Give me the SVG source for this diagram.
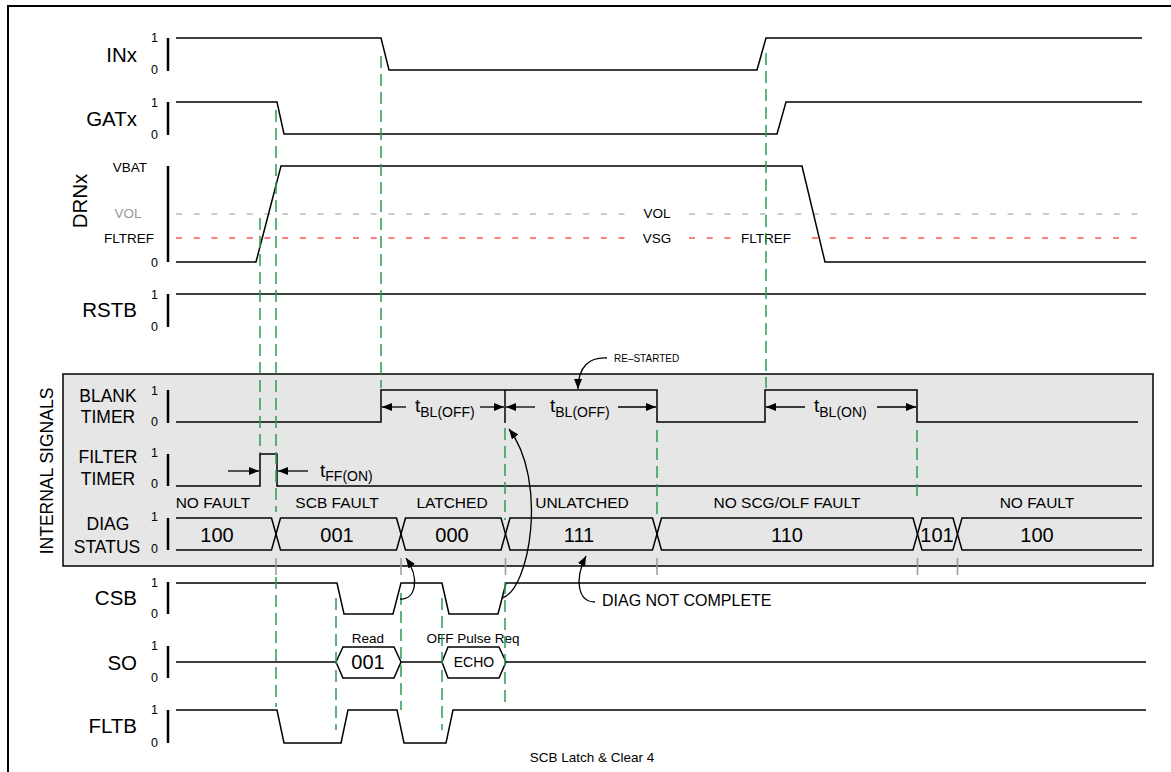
<svg xmlns="http://www.w3.org/2000/svg" width="1171" height="772" viewBox="0 0 1171 772">
<style>
text{font-family:"Liberation Sans",Arial,sans-serif;fill:#000}
.sig{fill:none;stroke:#000;stroke-width:1.5;stroke-linejoin:miter}
.bar{stroke:#000;stroke-width:2.5}
.lbl{font-size:20.5px;text-anchor:end}
.lv{font-size:12.5px;text-anchor:end}
.il{font-size:17.5px;text-anchor:middle}
.vl{font-size:13.5px;text-anchor:middle}
.st{font-size:15.5px;text-anchor:middle}
.bt{font-size:20px;text-anchor:middle}
.sm{font-size:13.5px;text-anchor:middle}
.gl{fill:none;stroke:#2a9a55;stroke-width:1.5;stroke-dasharray:12 6}
.gt{stroke:#999;stroke-width:1.5}
.dim{stroke:#000;stroke-width:1.3;marker-end:url(#ah)}
.crv{fill:none;stroke:#000;stroke-width:1.3;marker-end:url(#ah)}
.t{font-size:19px}
.sub{font-size:14px}
</style>
<defs>
<marker id="ah" markerUnits="userSpaceOnUse" markerWidth="10" markerHeight="8" refX="10" refY="4" orient="auto">
<path d="M0,0 L10,4 L0,8 Z" fill="#000"/>
</marker>
</defs>
<rect id="frame" x="8" y="6" width="1170" height="780" fill="#fff" stroke="#000" stroke-width="2"/>

<g id="internal-box">
<rect x="63" y="374" width="1090" height="192" fill="#e6e6e6" stroke="#000" stroke-width="1.5"/>
<text transform="translate(53,471) rotate(-90)" font-size="17.5" text-anchor="middle">INTERNAL SIGNALS</text>
</g>

<g id="INx">
<text class="lbl" x="137" y="62">INx</text>
<text class="lv" x="158" y="42">1</text>
<text class="lv" x="158" y="74">0</text>
<line class="bar" x1="168" y1="38" x2="168" y2="71"/>
<path class="sig" d="M176,38 H381 L389,70 H757 L766,38 H1142"/>
</g>

<g id="GATx">
<text class="lbl" x="137" y="126">GATx</text>
<text class="lv" x="158" y="107">1</text>
<text class="lv" x="158" y="139">0</text>
<line class="bar" x1="168" y1="102" x2="168" y2="135"/>
<path class="sig" d="M176,102 H277 L284,134 H777 L786,102 H1142"/>
</g>

<g id="DRNx">
<text transform="translate(87,201) rotate(-90)" font-size="20.5" text-anchor="middle">DRNx</text>
<text class="vl" x="130" y="172">VBAT</text>
<text class="vl" x="128" y="218" style="fill:#999">VOL</text>
<text class="vl" x="129" y="243">FLTREF</text>
<text class="lv" x="158" y="267">0</text>
<line class="bar" x1="168" y1="166" x2="168" y2="262"/>
<line x1="176" y1="214" x2="625" y2="214" stroke="#999" stroke-width="1.2" stroke-dasharray="6 11.7"/>
<line x1="689" y1="214" x2="1140" y2="214" stroke="#999" stroke-width="1.2" stroke-dasharray="6 11.7"/>
<line x1="176" y1="238" x2="625" y2="238" stroke="#f00" stroke-width="1.2" stroke-dasharray="6 11.7"/>
<line x1="689" y1="238" x2="732" y2="238" stroke="#f00" stroke-width="1.2" stroke-dasharray="6 11.7"/>
<line x1="812" y1="238" x2="1140" y2="238" stroke="#f00" stroke-width="1.2" stroke-dasharray="6 11.7"/>
<text class="vl" x="657" y="218">VOL</text>
<text class="vl" x="657" y="243">VSG</text>
<text class="vl" x="766" y="243">FLTREF</text>
<path class="sig" d="M176,262 H256 L281,166 H802 L825,262 H1146"/>
</g>

<g id="RSTB">
<text class="lbl" x="137" y="317">RSTB</text>
<text class="lv" x="158" y="299">1</text>
<text class="lv" x="158" y="331">0</text>
<line class="bar" x1="168" y1="294" x2="168" y2="327"/>
<path class="sig" d="M176,294 H1146"/>
</g>

<g id="BLANK-TIMER">
<text class="il" x="108" y="402">BLANK</text>
<text class="il" x="108" y="423">TIMER</text>
<text class="lv" x="158" y="395">1</text>
<text class="lv" x="158" y="426">0</text>
<line class="bar" x1="168" y1="390" x2="168" y2="423"/>
<path class="sig" d="M176,422 H381 V390 H657 V422 H765 V390 H917 V422 H1138"/>
<line class="sig" x1="505" y1="390" x2="505" y2="423"/>
<line class="dim" x1="406" y1="407" x2="382" y2="407"/>
<line class="dim" x1="480" y1="407" x2="504" y2="407"/>
<text x="415" y="412" class="t">t<tspan class="sub" dy="5">BL(OFF)</tspan></text>
<line class="dim" x1="535" y1="407" x2="506" y2="407"/>
<line class="dim" x1="618" y1="407" x2="656" y2="407"/>
<text x="550" y="412" class="t">t<tspan class="sub" dy="5">BL(OFF)</tspan></text>
<line class="dim" x1="805" y1="407" x2="766" y2="407"/>
<line class="dim" x1="877" y1="407" x2="916" y2="407"/>
<text x="814" y="412" class="t">t<tspan class="sub" dy="5">BL(ON)</tspan></text>
<text x="614" y="362" font-size="10">RE–STARTED</text>
</g>

<g id="FILTER-TIMER">
<text class="il" x="108" y="463">FILTER</text>
<text class="il" x="108" y="485">TIMER</text>
<text class="lv" x="158" y="457">1</text>
<text class="lv" x="158" y="488">0</text>
<line class="bar" x1="168" y1="454" x2="168" y2="486"/>
<path class="sig" d="M176,486 H260 V454 H277 V486 H1142"/>
<line class="dim" x1="228" y1="471" x2="259" y2="471"/>
<line class="dim" x1="308" y1="471" x2="278" y2="471"/>
<text x="320" y="477" class="t">t<tspan class="sub" dy="4">FF(ON)</tspan></text>
</g>

<g id="DIAG-STATUS">
<text class="il" x="108" y="530">DIAG</text>
<text class="il" x="107" y="553">STATUS</text>
<text class="lv" x="158" y="521">1</text>
<text class="lv" x="158" y="553">0</text>
<line class="bar" x1="168" y1="518" x2="168" y2="550"/>
<path class="sig" d="M176,518 H271.5 L280.5,550 H396.5 L405.5,518 H501 L510,550 H652.5 L661.5,518 H913 L922,550 H953 L962,518 H1142"/>
<path class="sig" d="M176,550 H271.5 L280.5,518 H396.5 L405.5,550 H501 L510,518 H652.5 L661.5,550 H913 L922,518 H953 L962,550 H1142"/>
<text class="st" x="213" y="508">NO FAULT</text>
<text class="st" x="337" y="508">SCB FAULT</text>
<text class="st" x="452" y="508">LATCHED</text>
<text class="st" x="582" y="508">UNLATCHED</text>
<text class="st" x="787" y="508">NO SCG/OLF FAULT</text>
<text class="st" x="1037" y="508">NO FAULT</text>
<text class="bt" x="217" y="542">100</text>
<text class="bt" x="337" y="542">001</text>
<text class="bt" x="452" y="542">000</text>
<text class="bt" x="579" y="542">111</text>
<text class="bt" x="787" y="542">110</text>
<text class="bt" x="937" y="542">101</text>
<text class="bt" x="1037" y="542">100</text>
</g>

<g id="CSB">
<text class="lbl" x="137" y="605">CSB</text>
<text class="lv" x="158" y="587">1</text>
<text class="lv" x="158" y="618">0</text>
<line class="bar" x1="168" y1="582" x2="168" y2="614"/>
<path class="sig" d="M176,583 H337 L344,614 H393 L401,583 H442 L449,614 H498 L506,583 H1146"/>
</g>

<g id="SO">
<text class="lbl" x="137" y="670">SO</text>
<text class="lv" x="158" y="650">1</text>
<text class="lv" x="158" y="682">0</text>
<line class="bar" x1="168" y1="646" x2="168" y2="678"/>
<path class="sig" d="M176,662 H336 M401,662 H442 M506,662 H1146"/>
<polygon class="sig" points="336,662 343,647 394,647 401,662 394,678 343,678"/>
<polygon class="sig" points="442,662 448,647 499,647 506,662 499,678 448,678"/>
<text class="bt" x="368" y="669">001</text>
<text x="474" y="667" font-size="14" text-anchor="middle">ECHO</text>
<text class="sm" x="368" y="643">Read</text>
<text class="sm" x="473" y="643">OFF Pulse Req</text>
</g>

<g id="FLTB">
<text class="lbl" x="137" y="733">FLTB</text>
<text class="lv" x="158" y="714">1</text>
<text class="lv" x="158" y="747">0</text>
<line class="bar" x1="168" y1="710" x2="168" y2="743"/>
<path class="sig" d="M176,710 H277 L284,743 H341 L348,710 H397 L404,743 H446 L453,710 H1146"/>
</g>

<g id="connectors">
<line class="gl" x1="260" y1="218" x2="260" y2="453"/>
<line class="gl" x1="276" y1="110" x2="276" y2="512"/>
<line class="gl" x1="276" y1="577" x2="276" y2="707"/>
<line class="gl" x1="381" y1="56" x2="381" y2="388"/>
<line class="gl" x1="766" y1="53" x2="766" y2="388"/>
<line class="gl" x1="505" y1="428" x2="505" y2="520"/>
<line class="gl" x1="505" y1="582" x2="505" y2="707"/>
<line class="gl" x1="657" y1="430" x2="657" y2="518"/>
<line class="gl" x1="917" y1="430" x2="917" y2="502"/>
<line class="gl" x1="401" y1="593" x2="401" y2="710"/>
<line class="gl" x1="336" y1="598" x2="336" y2="730"/>
<line class="gl" x1="442" y1="598" x2="442" y2="730"/>
<line class="gt" x1="276" y1="558" x2="276" y2="575"/>
<line class="gt" x1="401" y1="558" x2="401" y2="575"/>
<line class="gt" x1="505.5" y1="558" x2="505.5" y2="575"/>
<line class="gt" x1="657" y1="558" x2="657" y2="575"/>
<line class="gt" x1="917.5" y1="558" x2="917.5" y2="575"/>
<line class="gt" x1="957.5" y1="558" x2="957.5" y2="575"/>
<path class="crv" d="M502,598 C530,590 548,480 509,429"/>
<path class="crv" d="M400,599 C416,600 420,578 406,558"/>
<path class="crv" d="M595,602 C578,602 574,580 586,556"/>
<path class="crv" d="M607,358 C590,357 578,366 578,389"/>
</g>

<g id="notes">
<text x="602" y="606" font-size="16">DIAG NOT COMPLETE</text>
<text x="592" y="762" class="sm">SCB Latch &amp; Clear 4</text>
</g>
</svg>
